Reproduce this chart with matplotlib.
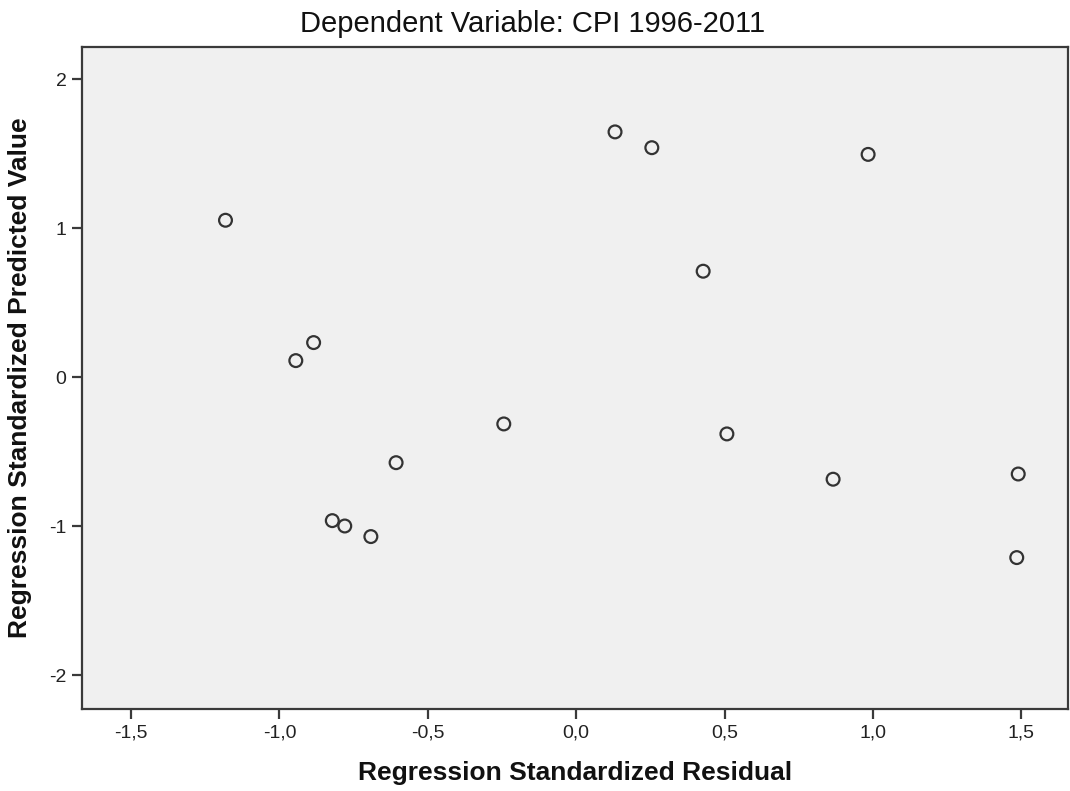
import matplotlib
matplotlib.use('Agg')
import matplotlib.pyplot as plt
from matplotlib.ticker import FuncFormatter

plt.rcParams['font.family'] = ['Liberation Sans', 'DejaVu Sans']

# Regression Standardized Residual (x) vs Regression Standardized Predicted Value (y)
residual = [-1.182, -0.885, -0.945, -0.244, -0.607, -0.822, -0.780, -0.692,
            0.131, 0.255, 0.984, 0.428, 0.508, 0.866, 1.490, 1.485]
predicted = [1.055, 0.234, 0.113, -0.312, -0.572, -0.961, -0.997, -1.068,
             1.648, 1.542, 1.497, 0.713, -0.379, -0.683, -0.648, -1.209]

x_ticks = [-1.5, -1.0, -0.5, 0.0, 0.5, 1.0, 1.5]
y_ticks = [-2, -1, 0, 1, 2]

fig = plt.figure(figsize=(10.7, 7.91), dpi=100)
ax = fig.add_axes([0.0771, 0.1037, 0.9211, 0.8373])
ax.set_facecolor('#f0f0f0')

ax.scatter(residual, predicted, s=85, facecolors='none', edgecolors='#333333',
           linewidths=1.6, zorder=3)

ax.set_xlim(-1.664, 1.658)
ax.set_ylim(-2.225, 2.22)
ax.set_xticks(x_ticks)
ax.set_yticks(y_ticks)
ax.xaxis.set_major_formatter(FuncFormatter(lambda v, p: f'{v:.1f}'.replace('.', ',')))
ax.yaxis.set_major_formatter(FuncFormatter(lambda v, p: f'{int(v)}'))

for sp in ax.spines.values():
    sp.set_color('#3a3a3a')
    sp.set_linewidth(1.6)
ax.tick_params(direction='out', length=7.5, width=1.6, color='#3a3a3a',
               labelsize=14, labelcolor='#222222', pad=4)

fig.text(0.498, 0.970, 'Dependent Variable: CPI 1996-2011', ha='center', va='center',
         fontsize=21, color='#111111')
ax.set_xlabel('Regression Standardized Residual', fontsize=19, fontweight='bold',
              color='#111111', labelpad=14)
ax.set_ylabel('Regression Standardized Predicted Value', fontsize=19, fontweight='bold',
              color='#111111', labelpad=12)

plt.savefig('out.png', dpi=100)
